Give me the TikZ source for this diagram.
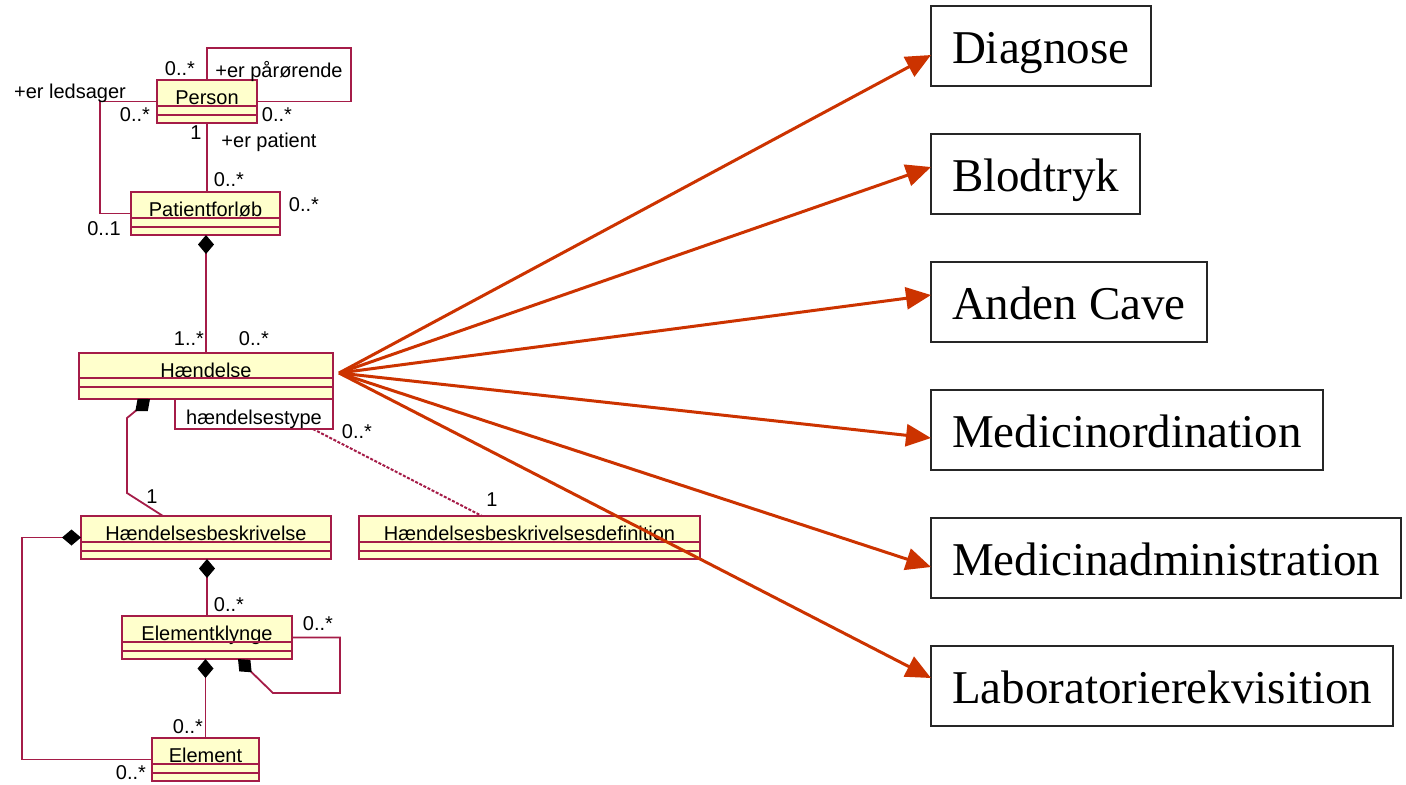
\documentclass[tikz,border=0pt]{standalone}
\usepackage{fontspec}
\setmainfont{Liberation Serif}
\newfontfamily\umlfont{Liberation Sans}
\usetikzlibrary{positioning,arrows.meta}
\definecolor{umlrod}{RGB}{165,28,72}
\definecolor{umlgul}{RGB}{255,255,204}
\definecolor{pilrod}{RGB}{204,51,0}

\begin{document}
\begin{tikzpicture}[x=0.5pt,y=-0.5pt,
			klasse/.style={draw=umlrod,fill=umlgul,line width=0.9pt,outer sep=0pt,
				font=\umlfont\fontsize{10}{12}\selectfont,
				inner xsep=2pt,inner ysep=1pt,text height=11pt,text depth=8.5pt},
			kval/.style={draw=umlrod,fill=white,line width=0.9pt,outer sep=0pt,
				font=\umlfont\fontsize{10}{12}\selectfont,inner sep=0pt,text height=10pt,text depth=0pt},
			mult/.style={font=\umlfont\fontsize{10}{12}\selectfont,inner sep=0pt},
			assoc/.style={draw=umlrod,line width=0.9pt},
			komp/.style={assoc,-{Diamond[length=9.5pt,width=8pt,color=black]}},
			kasse/.style={draw=black!85,line width=1pt,outer sep=0pt,font=\fontsize{23.5}{28}\selectfont,
				minimum height=40pt,inner ysep=0pt,inner xsep=10.5pt,text height=17pt,text depth=0pt},
			pil/.style={draw=pilrod,line width=1.5pt,-{Triangle[length=12.5pt,width=11pt]}}]
			\useasboundingbox (0,0) rectangle (1406,784);

			% klasser
			\node (person) [klasse,minimum width=50pt] at (207,101.5) {Person};
			\node (patient) [klasse,minimum width=74.5pt] at (205.5,213.5) {Patientforløb};
			\node (haendelse) [klasse,minimum width=127pt,text depth=10pt] at (206,376) {Hændelse};
			\node (htype) [kval,anchor=north east,minimum width=79pt,minimum height=15pt]
				at (haendelse.south east) {hændelsestype};
			\node (hbeskr) [klasse,minimum width=125pt] at (206,537.5) {Hændelsesbeskrivelse};
			\node (hdef) [klasse,minimum width=170.5pt] at (529.5,537.5) {Hændelsesbeskrivelsesdefinition};
			\node (klynge) [klasse,minimum width=85pt] at (207,637.5) {Elementklynge};
			\node (element) [klasse,minimum width=53.5pt] at (205.5,759.5) {Element};

			\foreach \k in {person,patient,hbeskr,hdef,klynge,element}
				\draw[assoc] ([yshift=4pt]\k.south west) -- ([yshift=4pt]\k.south east)
					([yshift=8.5pt]\k.south west) -- ([yshift=8.5pt]\k.south east);
			\draw[assoc] ([yshift=6pt]haendelse.south west) -- ([yshift=6pt]haendelse.south east)
				([yshift=10.5pt]haendelse.south west) -- ([yshift=10.5pt]haendelse.south east);

			% associationer
			\draw[assoc] (person.south) -- (person.south |- patient.north);
			\draw[assoc] (person.west) -- ++(-57,0) |- (patient.west);
			\draw[assoc] (person.north) -- ++(0,-32) -- ++(144,0) |- (person.east);
			\draw[komp] (haendelse.north) -- (haendelse.north |- patient.south);
			\draw[komp] ([xshift=-21.5pt]hbeskr.north) -- ++(-36,-23) -- ++(0,-75)
				-- ([xshift=-28pt]haendelse.south);
			\draw[assoc,line width=1pt,dash pattern=on 1.5pt off 0.8pt]
				([xshift=-10pt]htype.south east) -- ([xshift=-23.75pt]hdef.north);
			\draw[komp] (klynge.north) -- (klynge.north |- hbeskr.south);
			\draw[komp] (klynge.east) -- ++(48,0) -- ++(0,55.5) -- ++(-67,0)
				-- ([xshift=15.5pt]klynge.south);
			\draw[komp] (element.north) -- (element.north |- klynge.south);
			\draw[komp] (element.west) -- ++(-130,0) |- (hbeskr.west);

			% roller og multipliciteter
			\node (m1) [mult] at (180,69) {0..*};
			\node (r1) [mult] at (279,72) {+er pårørende};
			\node (r2) [mult] at (70,93) {+er ledsager};
			\node (m2) [mult] at (135,115) {0..*};
			\node (m3) [mult] at (277,115) {0..*};
			\node (m4) [mult] at (196,133) {1};
			\node (r3) [mult] at (269,142) {+er patient};
			\node (m5) [mult] at (229,180) {0..*};
			\node (m6) [mult] at (304,205) {0..*};
			\node (m7) [mult] at (104,229) {0..1};
			\node (m8) [mult] at (189,339) {1..*};
			\node (m9) [mult] at (254,339) {0..*};
			\node (m10) [mult] at (357,432) {0..*};
			\node (m11) [mult] at (492,500) {1};
			\node (m12) [mult] at (152,497) {1};
			\node (m13) [mult] at (229,605) {0..*};
			\node (m14) [mult] at (318,624) {0..*};
			\node (m15) [mult] at (188,727) {0..*};
			\node (m16) [mult] at (131,773) {0..*};

			% haendelsestyper
			\node (diag) [kasse,anchor=west] at (931,46) {Diagnose};
			\node (blod) [kasse,below right=24pt and 0pt of diag.south west] {Blodtryk};
			\node (cave) [kasse,below right=24pt and 0pt of blod.south west] {Anden Cave};
			\node (medord) [kasse,below right=24pt and 0pt of cave.south west] {Medicinordination};
			\node (medadm) [kasse,below right=24pt and 0pt of medord.south west] {Medicinadministration};
			\node (lab) [kasse,below right=24pt and 0pt of medadm.south west] {Laboratorierekvisition};

			\coordinate (spids) at (339,373);
			\draw[pil] (spids) -- ([yshift=-4.5pt]diag.west);
			\draw[pil] (spids) -- ([yshift=3.5pt]blod.west);
			\draw[pil] (spids) -- ([yshift=3.5pt]cave.west);
			\draw[pil] (spids) -- ([yshift=-4pt]medord.west);
			\draw[pil] (spids) -- ([yshift=-4.5pt]medadm.west);
			\draw[pil] (spids) -- ([yshift=4pt]lab.west);
		\end{tikzpicture}
\end{document}
